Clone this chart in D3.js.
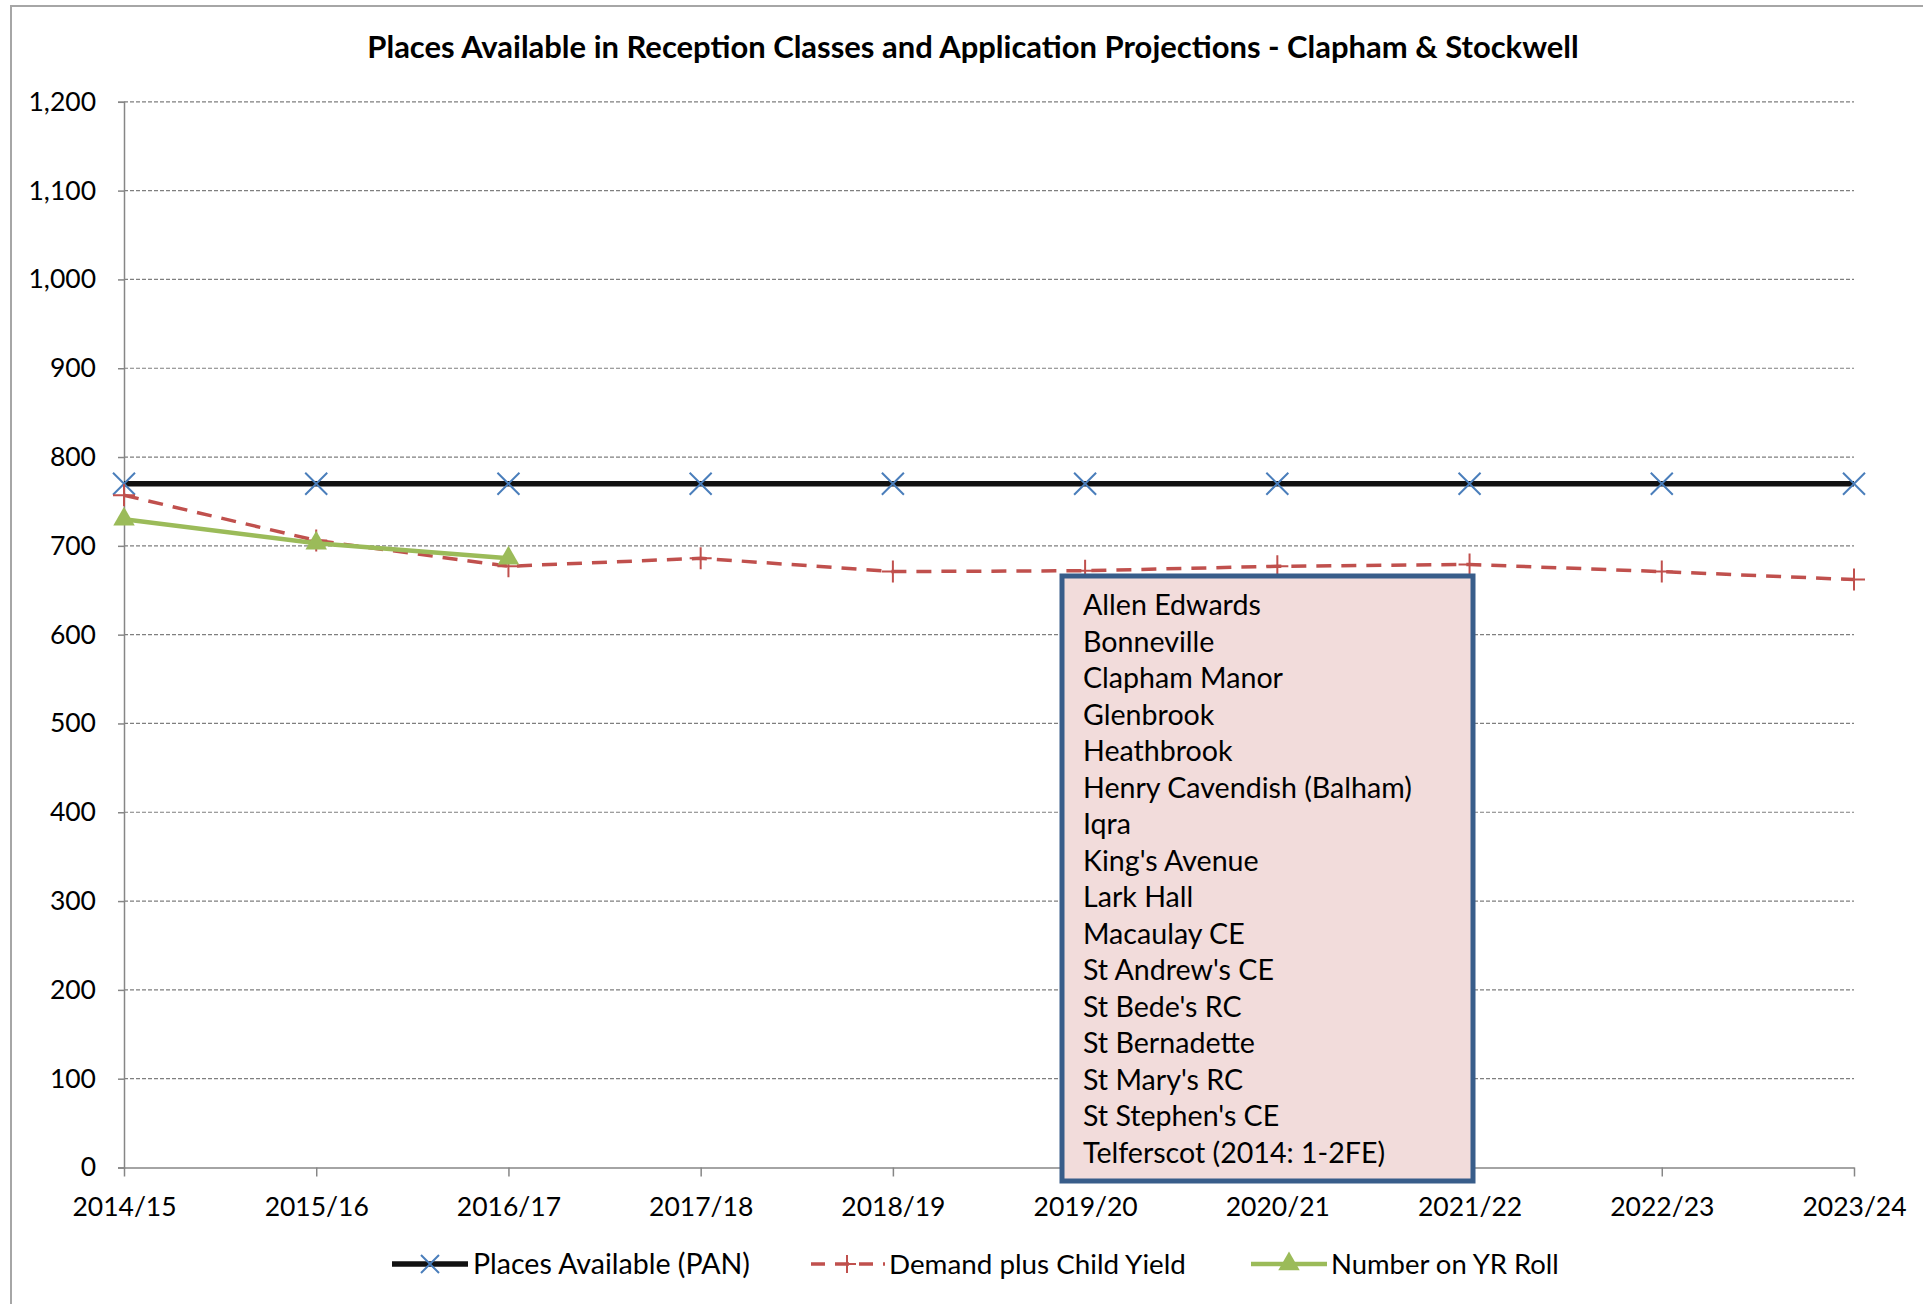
<!DOCTYPE html>
<html>
<head>
<meta charset="utf-8">
<script src="https://cdn.jsdelivr.net/npm/d3@7/dist/d3.min.js"></script>
<style>
  body { margin: 0; background: #fff; }
  svg { display: block; }
  text { font-family: Lato, "Open Sans", sans-serif; fill: #000; }
</style>
</head>
<body>
<svg id="chart" width="1923" height="1304"></svg>
<script>
// data
const years = ['2014/15', '2015/16', '2016/17', '2017/18', '2018/19',
  '2019/20', '2020/21', '2021/22', '2022/23', '2023/24'];
const pan = [770, 770, 770, 770, 770, 770, 770, 770, 770, 770];
const demand = [757, 706, 677, 686, 671, 672, 677, 679, 671, 662];
const yrRoll = [730, 703, 686];
const yTicks = [0, 100, 200, 300, 400, 500, 600, 700, 800, 900, 1000, 1100, 1200];
const schools = ['Allen Edwards', 'Bonneville', 'Clapham Manor', 'Glenbrook',
  'Heathbrook', 'Henry Cavendish (Balham)', 'Iqra', "King's Avenue", 'Lark Hall',
  'Macaulay CE', "St Andrew's CE", "St Bede's RC", 'St Bernadette',
  "St Mary's RC", "St Stephen's CE", 'Telferscot (2014: 1-2FE)'];
const seriesNames = ['Places Available (PAN)', 'Demand plus Child Yield', 'Number on YR Roll'];

const svg = d3.select('#chart');
const axisColor = '#868686';
const blue = '#4a7ebb', red = '#c0504d', green = '#9bbb59';

// scale a text's font so it spans a given width
function fit(sel, target) {
  let w = sel.node().getComputedTextLength();
  let fs = parseFloat(sel.attr('font-size'));
  return fs * target / w;
}

// outer chart frame
svg.append('path')
  .attr('d', 'M11,1304 V6 H1923')
  .attr('fill', 'none')
  .attr('stroke', '#a6a6a6')
  .attr('stroke-width', 2);

let x = d3.scalePoint().domain(years).range([124, 1854]).padding(0);
let y = d3.scaleLinear().domain([0, 1200]).range([1167.5, 101.8]);

// title
let title = svg.append('text')
  .attr('x', 973).attr('y', 58)
  .attr('text-anchor', 'middle')
  .attr('font-weight', 'bold')
  .attr('font-size', 24)
  .text('Places Available in Reception Classes and Application Projections - Clapham & Stockwell');
title.attr('font-size', fit(title, 1212));

// gridlines
svg.append('g')
  .selectAll('line')
  .data(yTicks.slice(1))
  .enter()
  .append('line')
  .attr('x1', 124).attr('x2', 1854)
  .attr('y1', d => y(d)).attr('y2', d => y(d))
  .attr('stroke', '#7f7f7f')
  .attr('stroke-width', 1.2)
  .attr('stroke-dasharray', '4,2');

// y axis
let yAxis = svg.append('g')
  .attr('transform', 'translate(124,0)')
  .call(d3.axisLeft(y).tickValues(yTicks).tickSize(6).tickPadding(22)
    .tickFormat(d3.format(',')));
yAxis.select('.domain').attr('stroke', axisColor).attr('stroke-width', 1.5);
yAxis.selectAll('.tick line').attr('stroke', axisColor).attr('stroke-width', 1.5);
yAxis.selectAll('.tick text')
  .attr('font-family', 'Lato, sans-serif')
  .attr('font-size', 26.5)
  .attr('fill', '#000');

// x axis
let xAxis = svg.append('g')
  .attr('transform', 'translate(0,' + y(0) + ')')
  .call(d3.axisBottom(x).tickSize(9).tickPadding(21).tickSizeOuter(0));
xAxis.select('.domain').attr('stroke', axisColor).attr('stroke-width', 1.5);
xAxis.selectAll('.tick line').attr('stroke', axisColor).attr('stroke-width', 1.5);
xAxis.selectAll('.tick text')
  .attr('font-family', 'Lato, sans-serif')
  .attr('font-size', 26.5)
  .attr('fill', '#000');

// marker paths
function xMark(s) {
  return 'M' + -s + ',' + -s + 'L' + s + ',' + s + 'M' + -s + ',' + s + 'L' + s + ',' + -s;
}
function plusMark(s) {
  return 'M' + -s + ',0H' + s + 'M0,' + -s + 'V' + s;
}
let tri = d3.symbol().type(d3.symbolTriangle).size(200);

let line = d3.line()
  .x((d, i) => x(years[i]))
  .y(d => y(d));

// PAN line
svg.append('path')
  .datum(pan)
  .attr('d', line)
  .attr('fill', 'none')
  .attr('stroke', '#111')
  .attr('stroke-width', 5.5);

svg.append('g')
  .selectAll('path')
  .data(pan)
  .enter()
  .append('path')
  .attr('transform', (d, i) => 'translate(' + x(years[i]) + ',' + y(d) + ')')
  .attr('d', xMark(11))
  .attr('stroke', blue)
  .attr('stroke-width', 2)
  .attr('fill', 'none');

// demand line
svg.append('path')
  .datum(demand)
  .attr('d', line)
  .attr('fill', 'none')
  .attr('stroke', red)
  .attr('stroke-width', 3.5)
  .attr('stroke-dasharray', '15,10');

svg.append('g')
  .selectAll('path')
  .data(demand)
  .enter()
  .append('path')
  .attr('transform', (d, i) => 'translate(' + x(years[i]) + ',' + y(d) + ')')
  .attr('d', plusMark(11))
  .attr('stroke', red)
  .attr('stroke-width', 2)
  .attr('fill', 'none');

// YR roll line
svg.append('path')
  .datum(yrRoll)
  .attr('d', line)
  .attr('fill', 'none')
  .attr('stroke', green)
  .attr('stroke-width', 4.5);

svg.append('g')
  .selectAll('path')
  .data(yrRoll)
  .enter()
  .append('path')
  .attr('transform', (d, i) => 'translate(' + x(years[i]) + ',' + y(d) + ')')
  .attr('d', tri)
  .attr('fill', green);

// school list box
let box = svg.append('g');
box.append('rect')
  .attr('x', 1062).attr('y', 576)
  .attr('width', 411).attr('height', 605)
  .attr('fill', '#f2dcdb')
  .attr('stroke', '#385d8a')
  .attr('stroke-width', 5);

let boxText = box.selectAll('text')
  .data(schools)
  .enter()
  .append('text')
  .attr('x', 1083)
  .attr('y', (d, i) => 605 + i * 36.5)
  .attr('dy', '0.35em')
  .attr('font-size', 26)
  .text(d => d);
let boxFs = fit(boxText.filter((d, i) => i === 5), 329);
boxText.attr('font-size', boxFs);

// legend
let legendX = [
  { lx: 392, tx: 473, w: 277 },
  { lx: 809, tx: 889, w: 297 },
  { lx: 1251, tx: 1331, w: 228 }
];
let legendY = 1264;
let legend = svg.append('g');

legend.append('line')
  .attr('x1', legendX[0].lx).attr('x2', legendX[0].lx + 76)
  .attr('y1', legendY).attr('y2', legendY)
  .attr('stroke', '#111').attr('stroke-width', 5.5);
legend.append('path')
  .attr('transform', 'translate(' + (legendX[0].lx + 38) + ',' + legendY + ')')
  .attr('d', xMark(9))
  .attr('stroke', blue).attr('stroke-width', 2).attr('fill', 'none');

legend.append('line')
  .attr('x1', legendX[1].lx).attr('x2', legendX[1].lx + 76)
  .attr('y1', legendY).attr('y2', legendY)
  .attr('stroke', red).attr('stroke-width', 3.5)
  .attr('stroke-dasharray', '14,10')
  .attr('stroke-dashoffset', -2);
legend.append('path')
  .attr('transform', 'translate(' + (legendX[1].lx + 38) + ',' + legendY + ')')
  .attr('d', plusMark(9))
  .attr('stroke', red).attr('stroke-width', 2).attr('fill', 'none');

legend.append('line')
  .attr('x1', legendX[2].lx).attr('x2', legendX[2].lx + 76)
  .attr('y1', legendY).attr('y2', legendY)
  .attr('stroke', green).attr('stroke-width', 4.5);
legend.append('path')
  .attr('transform', 'translate(' + (legendX[2].lx + 38) + ',' + legendY + ')')
  .attr('d', tri)
  .attr('fill', green);

let legendText = legend.selectAll('text')
  .data(seriesNames)
  .enter()
  .append('text')
  .attr('x', (d, i) => legendX[i].tx)
  .attr('y', legendY)
  .attr('dy', '0.35em')
  .attr('font-size', 26)
  .text(d => d);
legendText.each(function(d, i) {
  let t = d3.select(this);
  t.attr('font-size', fit(t, legendX[i].w));
});
</script>
</body>
</html>
